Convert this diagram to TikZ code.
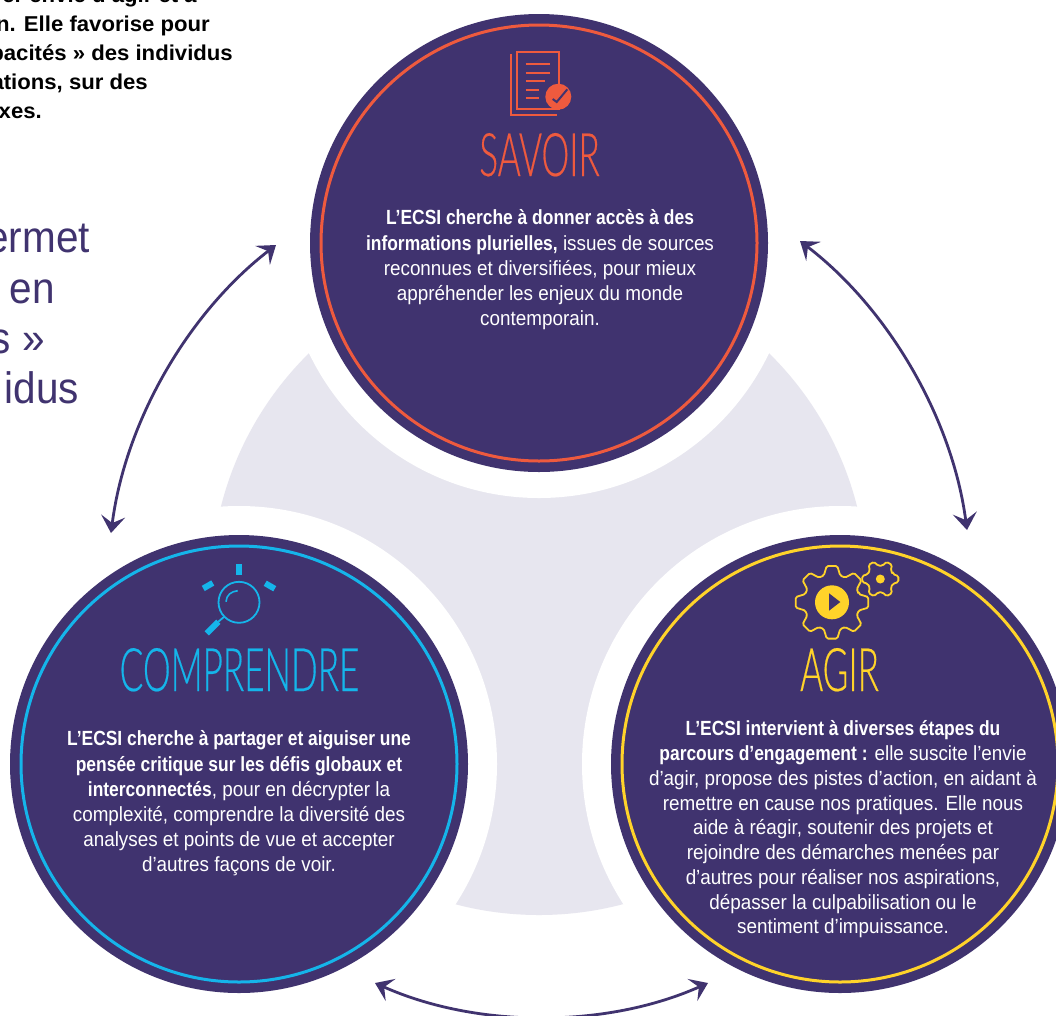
\documentclass[tikz,border=0pt]{standalone}
\usepackage{fontspec}
\usetikzlibrary{arrows.meta}
\setmainfont{Liberation Sans}
\newfontfamily\bodyf[FakeStretch=0.92,BoldFeatures={FakeStretch=0.85}]{Liberation Sans}
\newfontfamily\titlef[FakeStretch=0.585,FakeBold=0.3]{Lato Light}
\newfontfamily\cornerf[FakeStretch=1.03]{Liberation Sans}
\newfontfamily\bigf[FakeStretch=0.92]{Liberation Sans}
\definecolor{dark}{HTML}{40336F}
\definecolor{orng}{HTML}{EE5A3E}
\definecolor{cyn}{HTML}{15B5EA}
\definecolor{yel}{HTML}{FFD32A}
\definecolor{pale}{HTML}{E7E6EF}
\tikzset{
  disc/.style={circle,fill=dark,minimum size=458pt,inner sep=0pt},
  ring/.style={circle,draw=#1,line width=3pt,minimum size=436pt,inner sep=0pt},
  halo/.style={circle,fill=white,minimum size=#1,inner sep=0pt},
  bodytxt/.style={text=white,align=center,inner sep=0pt,font=\bodyf\fontsize{20.5}{25.2}\selectfont},
  bodytight/.style={text=white,align=center,inner sep=0pt,font=\bodyf\fontsize{20.5}{24.75}\selectfont},
  titletxt/.style={anchor=base,inner sep=0pt,font=\titlef\fontsize{60}{62}\selectfont},
  cornertxt/.style={anchor=base east,inner sep=0pt,text=black,font=\cornerf\fontsize{21.5}{24}\selectfont\bfseries},
  bigtxt/.style={anchor=base east,inner sep=0pt,text=dark,font=\bigf\fontsize{44}{50}\selectfont},
  link/.style={draw=dark,line width=2.8pt,{Stealth[length=17pt,width=24pt,inset=7pt]}-{Stealth[length=17pt,width=24pt,inset=7pt]},looseness=0.86},
  icon/.style={line width=2pt,line cap=butt}
}
\newcommand{\gearshape}[7]{% cx cy root outer halfbase halftip teeth
  \begin{scope}[shift={(#1,#2)}]
    \pgfmathsetmacro{\gstep}{360/#7}
    \pgfmathsetmacro{\glast}{360-\gstep}
    \draw[yel,line width=1.8pt,rounded corners=1.5pt]
      (-#5:#3)
      \foreach \ga in {0,\gstep,...,\glast}{
        -- (\ga-#5:#3) -- (\ga-#6:#4) -- (\ga+#6:#4) -- (\ga+#5:#3)
      } -- cycle;
  \end{scope}
}
\begin{document}
\begin{tikzpicture}[x=1pt,y=-1pt]
\useasboundingbox (0,0) rectangle (1056,1015);
\clip (0,0) rectangle (1056,1015);
\fill[white] (0,0) rectangle (1056,1015);
% pale backdrop
\fill[pale] (539,587) circle (328);
\node[halo=510pt] at (539,243) {};
\node[halo=516pt] at (239,764) {};
\node[halo=516pt] at (840,764) {};
% cropped text on the left
\node[cornertxt] (c1) at (197,2) {er envie d’agir et à};
\node[cornertxt] (c2) at (210,31) {n. Elle favorise pour};
\node[cornertxt] (c3) at (233,60) {pacités » des individus};
\node[cornertxt] (c4) at (148,89) {ations, sur des};
\node[cornertxt] (c5) at (42,118) {xes.};
\node[bigtxt] (b1) at (90,252) {ermet};
\node[bigtxt] (b2) at (55,303) {en};
\node[bigtxt] (b3) at (45,353) {s »};
\node[bigtxt] (b4) at (79,403) {idus};
% circles
\node[disc] (savoir) at (539,243) {};
\node[ring=orng] at (539,243) {};
\node[disc] (comprendre) at (239,764) {};
\node[ring=cyn] at (239,764) {};
\node[disc] (agir) at (840,764) {};
\node[ring=yel] at (840,764) {};
% connectors
\coordinate (a1) at (800,241);
\coordinate (a2) at (967,530);
\coordinate (a3) at (276,245);
\coordinate (a4) at (111,533);
\coordinate (a5) at (375,983);
\coordinate (a6) at (708,983);
\draw[link] (a1) to[bend left=22.5] (a2);
\draw[link] (a3) to[bend right=22.5] (a4);
\draw[link] (a5) to[bend right=24] (a6);
% titles
\node[titletxt,text=orng] (t1) at (539.5,176) {SAVOIR};
\node[titletxt,text=cyn] (t2) at (239.5,691) {COMPRENDRE};
\node[titletxt,text=yel] (t3) at (839.5,691) {AGIR};
% body text
\node[bodytxt] (x1) at (540,270) {\textbf{L’ECSI cherche à donner accès à des}\\\textbf{informations plurielles,} issues de sources\\reconnues et diversifiées, pour mieux\\appréhender les enjeux du monde\\contemporain.};
\node[bodytxt] (x2) at (239,803.5) {\textbf{L’ECSI cherche à partager et aiguiser une}\\\textbf{pensée critique sur les défis globaux et}\\\textbf{interconnectés}, pour en décrypter la\\complexité, comprendre la diversité des\\analyses et points de vue et accepter\\d’autres façons de voir.};
\node[bodytight] (x3) at (843,829.5) {\textbf{L’ECSI intervient à diverses étapes du}\\\textbf{parcours d’engagement :} elle suscite l’envie\\d’agir, propose des pistes d’action, en aidant à\\remettre en cause nos pratiques. Elle nous\\aide à réagir, soutenir des projets et\\rejoindre des démarches menées par\\d’autres pour réaliser nos aspirations,\\dépasser la culpabilisation ou le\\sentiment d’impuissance.};
% document icon
\draw[orng,icon] (511.3,54) -- (511.3,115) -- (557,115);
\draw[orng,icon] (517,52) rectangle (559,109);
\draw[orng,icon] (525.5,64) -- (550,64) (525.5,72.5) -- (550,72.5) (525.5,81) -- (545,81) (525.5,89.5) -- (539,89.5) (525.5,98) -- (539,98);
\fill[orng] (558.3,96.7) circle (13);
\draw[dark,line width=2pt] (552.7,99) -- (556.7,102) -- (567.3,89.3);
% magnifier icon
\draw[cyn,line width=1.8pt] (239,602.3) circle (20.5);
\draw[cyn,line width=1.6pt] (226,601.7) .. controls (226.5,595) and (231,591.5) .. (237.7,590.7);
\fill[cyn] (236,564) rectangle (242,575);
\fill[cyn,rotate around={30:(208,585.7)}] (202.5,582.7) rectangle (213.5,588.7);
\fill[cyn,rotate around={-30:(270,586)}] (264.5,583) rectangle (275.5,589);
\draw[cyn,line width=6pt] (206.7,633.3) -- (218.3,621.7);
\draw[cyn,line width=1.8pt] (218.3,621.7) -- (224.5,616.5);
% gear icons
\gearshape{832}{602.3}{28}{36.7}{17}{8.3}{8}
\fill[yel] (832,602.3) circle (17);
\fill[dark] (829,593.3) -- (829,610.7) -- (840.3,602) -- cycle;
\gearshape{880.3}{579}{13.5}{18.3}{21}{9.5}{6}
\fill[yel] (880.3,579) circle (4.5);
\end{tikzpicture}
\end{document}
